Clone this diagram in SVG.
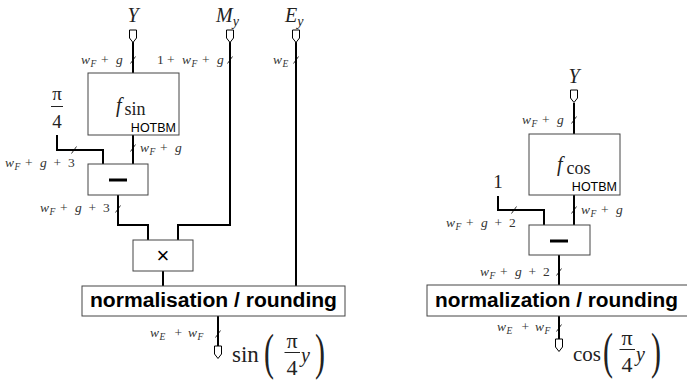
<svg xmlns="http://www.w3.org/2000/svg" xmlns:xlink="http://www.w3.org/1999/xlink" width="687" height="380" viewBox="0 0 687 380">
<style>
.w{stroke:#000;stroke-width:2;fill:none}
.box{fill:#fff;stroke:#444;stroke-width:1}
.port{fill:#fff;stroke:#000;stroke-width:1}
.tick{stroke:#000;stroke-width:0.8;fill:none}
.lb{font-size:13.5px;font-style:italic;fill:#333}
.sub{font-size:9.5px}
.rm{font-style:normal}
.big{font-size:20px;font-style:italic;fill:#222}
.rmb{font-style:normal;fill:#222}
.sans{fill:#000}
.bold{font-weight:bold;font-size:20px;fill:#000}
.bar{stroke:#222;stroke-width:1}
.minus{stroke:#000;stroke-width:3}
</style>
<defs>
<path id="port" class="port" d="M-3.5,0 h7 v8 l-3.5,4.5 l-3.5,-4.5 z"/>
<path id="tick" class="tick" d="M-2.5,3.5 L2.5,-3.5"/>
</defs>

<g id="connectors">
<path class="w" d="M133,42 V73"/>
<path class="w" d="M133,135 V164"/>
<path class="w" d="M57,135 V150 H103 V164"/>
<path class="w" d="M118,195 V225 H148 V240"/>
<path class="w" d="M230,42 V225 H178 V240"/>
<path class="w" d="M163,271 V286"/>
<path class="w" d="M296,42 V286"/>
<path class="w" d="M218,316 V346"/>
<path class="w" d="M574,103 V134"/>
<path class="w" d="M574,195 V225"/>
<path class="w" d="M498,196 V210 H544 V225"/>
<path class="w" d="M559,255 V285"/>
<path class="w" d="M559,316 V339"/>
<use xlink:href="#tick" x="133" y="60"/>
<use xlink:href="#tick" x="230" y="60"/>
<use xlink:href="#tick" x="296" y="60"/>
<use xlink:href="#tick" x="133" y="148"/>
<use xlink:href="#tick" x="74" y="150"/>
<use xlink:href="#tick" x="118" y="209"/>
<use xlink:href="#tick" x="218" y="334"/>
<use xlink:href="#tick" x="574" y="120"/>
<use xlink:href="#tick" x="574" y="210"/>
<use xlink:href="#tick" x="514" y="210"/>
<use xlink:href="#tick" x="559" y="272"/>
<use xlink:href="#tick" x="559" y="328"/>
</g>

<g id="labels" font-family="Liberation Serif, Times New Roman, serif">
<text class="lb"><tspan x="81" y="64">w</tspan><tspan class="sub" x="90.5" y="66.5">F</tspan><tspan class="rm" x="101" y="64">+</tspan><tspan x="116" y="64">g</tspan></text>
<text class="lb"><tspan class="rm" x="157" y="64">1</tspan><tspan class="rm" x="167" y="64">+</tspan><tspan x="182" y="64">w</tspan><tspan class="sub" x="191.5" y="66.5">F</tspan><tspan class="rm" x="202" y="64">+</tspan><tspan x="217" y="64">g</tspan></text>
<text class="lb"><tspan x="273" y="64">w</tspan><tspan class="sub" x="282.5" y="66.5">E</tspan></text>
<text class="lb"><tspan x="140" y="152">w</tspan><tspan class="sub" x="149.5" y="154.5">F</tspan><tspan class="rm" x="160" y="152">+</tspan><tspan x="175" y="152">g</tspan></text>
<text class="lb"><tspan x="5" y="167">w</tspan><tspan class="sub" x="14.5" y="169.5">F</tspan><tspan class="rm" x="25" y="167">+</tspan><tspan x="40" y="167">g</tspan><tspan class="rm" x="53.5" y="167">+</tspan><tspan class="rm" x="68" y="167">3</tspan></text>
<text class="lb"><tspan x="40" y="212">w</tspan><tspan class="sub" x="49.5" y="214.5">F</tspan><tspan class="rm" x="60" y="212">+</tspan><tspan x="75" y="212">g</tspan><tspan class="rm" x="88.5" y="212">+</tspan><tspan class="rm" x="103" y="212">3</tspan></text>
<text class="lb"><tspan x="150" y="337">w</tspan><tspan class="sub" x="159.5" y="339.5">E</tspan><tspan class="rm" x="174.5" y="337">+</tspan><tspan x="188" y="337">w</tspan><tspan class="sub" x="197.5" y="339.5">F</tspan></text>
<text class="lb"><tspan x="522" y="124">w</tspan><tspan class="sub" x="531.5" y="126.5">F</tspan><tspan class="rm" x="542" y="124">+</tspan><tspan x="557" y="124">g</tspan></text>
<text class="lb"><tspan x="581" y="214">w</tspan><tspan class="sub" x="590.5" y="216.5">F</tspan><tspan class="rm" x="601" y="214">+</tspan><tspan x="616" y="214">g</tspan></text>
<text class="lb"><tspan x="446" y="227">w</tspan><tspan class="sub" x="455.5" y="229.5">F</tspan><tspan class="rm" x="466" y="227">+</tspan><tspan x="481" y="227">g</tspan><tspan class="rm" x="494.5" y="227">+</tspan><tspan class="rm" x="509" y="227">2</tspan></text>
<text class="lb"><tspan x="480" y="276">w</tspan><tspan class="sub" x="489.5" y="278.5">F</tspan><tspan class="rm" x="500" y="276">+</tspan><tspan x="515" y="276">g</tspan><tspan class="rm" x="528.5" y="276">+</tspan><tspan class="rm" x="543" y="276">2</tspan></text>
<text class="lb"><tspan x="497" y="331">w</tspan><tspan class="sub" x="506.5" y="333.5">E</tspan><tspan class="rm" x="521.5" y="331">+</tspan><tspan x="535" y="331">w</tspan><tspan class="sub" x="544.5" y="333.5">F</tspan></text>
</g>

<g id="nodes" font-family="Liberation Serif, Times New Roman, serif">
<g id="in-Y">
<text class="big" x="133" y="22" text-anchor="middle">Y</text>
<use xlink:href="#port" x="133" y="30"/>
</g>
<g id="in-My">
<text class="big" x="216" y="22">M<tspan font-size="14" y="26">y</tspan></text>
<use xlink:href="#port" x="230" y="30"/>
</g>
<g id="in-Ey">
<text class="big" x="285" y="22">E<tspan font-size="14" y="26">y</tspan></text>
<use xlink:href="#port" x="296" y="30"/>
</g>
<g id="const-pi4">
<text class="rmb" x="57" y="100" font-size="19" text-anchor="middle">π</text>
<line class="bar" x1="51" y1="106.5" x2="63" y2="106.5"/>
<text class="rmb" x="57" y="128" font-size="19" text-anchor="middle">4</text>
</g>
<g id="fsin">
<rect class="box" x="88" y="73" width="91" height="62"/>
<text class="big" x="116" y="112" font-size="25">f</text>
<text class="rmb" x="124.5" y="115" font-size="18">sin</text>
<text class="sans" font-family="Liberation Sans, Arial, sans-serif" x="176" y="132" font-size="12.5" text-anchor="end">HOTBM</text>
</g>
<g id="sub-left">
<rect class="box" x="88" y="164" width="60" height="31"/>
<line class="minus" x1="109" y1="180" x2="127" y2="180"/>
</g>
<g id="mult">
<rect class="box" x="133" y="240" width="60" height="31"/>
<text class="sans" font-family="Liberation Sans, Arial, sans-serif" x="163" y="263" font-size="22" text-anchor="middle">×</text>
</g>
<g id="norm-left">
<rect class="box" x="82" y="286" width="263" height="30"/>
<text class="bold" font-family="Liberation Sans, Arial, sans-serif" x="90" y="307" textLength="247" lengthAdjust="spacingAndGlyphs">normalisation / rounding</text>
</g>
<g id="out-sin">
<use xlink:href="#port" x="218" y="346"/>
<text class="rmb" x="232" y="362" font-size="23">sin</text>
<text class="rmb" font-size="50" transform="translate(264,369) scale(0.6,1)">(</text>
<text class="rmb" x="292" y="348" font-size="22" text-anchor="middle">π</text>
<line class="bar" x1="284.5" y1="352.5" x2="300" y2="352.5"/>
<text class="rmb" x="292" y="375" font-size="22" text-anchor="middle">4</text>
<text class="big" x="301" y="362" font-size="23">y</text>
<text class="rmb" font-size="50" transform="translate(315,369) scale(0.6,1)">)</text>
</g>

<g id="in-Y2">
<text class="big" x="574" y="83" text-anchor="middle">Y</text>
<use xlink:href="#port" x="574" y="90"/>
</g>
<g id="const-1">
<text class="rmb" x="498" y="188" font-size="19" text-anchor="middle">1</text>
</g>
<g id="fcos">
<rect class="box" x="529" y="134" width="91" height="61"/>
<text class="big" x="557" y="171" font-size="25">f</text>
<text class="rmb" x="566.5" y="174" font-size="18">cos</text>
<text class="sans" font-family="Liberation Sans, Arial, sans-serif" x="617" y="191" font-size="12.5" text-anchor="end">HOTBM</text>
</g>
<g id="sub-right">
<rect class="box" x="529" y="225" width="61" height="30"/>
<line class="minus" x1="550" y1="241" x2="568" y2="241"/>
</g>
<g id="norm-right">
<rect class="box" x="427" y="285" width="265" height="31"/>
<text class="bold" font-family="Liberation Sans, Arial, sans-serif" x="435" y="307" textLength="243" lengthAdjust="spacingAndGlyphs">normalization / rounding</text>
</g>
<g id="out-cos">
<use xlink:href="#port" x="559" y="339"/>
<text class="rmb" x="573" y="361" font-size="21">cos</text>
<text class="rmb" font-size="50" transform="translate(603,368) scale(0.6,1)">(</text>
<text class="rmb" x="627" y="345" font-size="22" text-anchor="middle">π</text>
<line class="bar" x1="619.5" y1="349.5" x2="635" y2="349.5"/>
<text class="rmb" x="627" y="372" font-size="22" text-anchor="middle">4</text>
<text class="big" x="636" y="361" font-size="23">y</text>
<text class="rmb" font-size="50" transform="translate(651,368) scale(0.6,1)">)</text>
</g>
</g>
</svg>
